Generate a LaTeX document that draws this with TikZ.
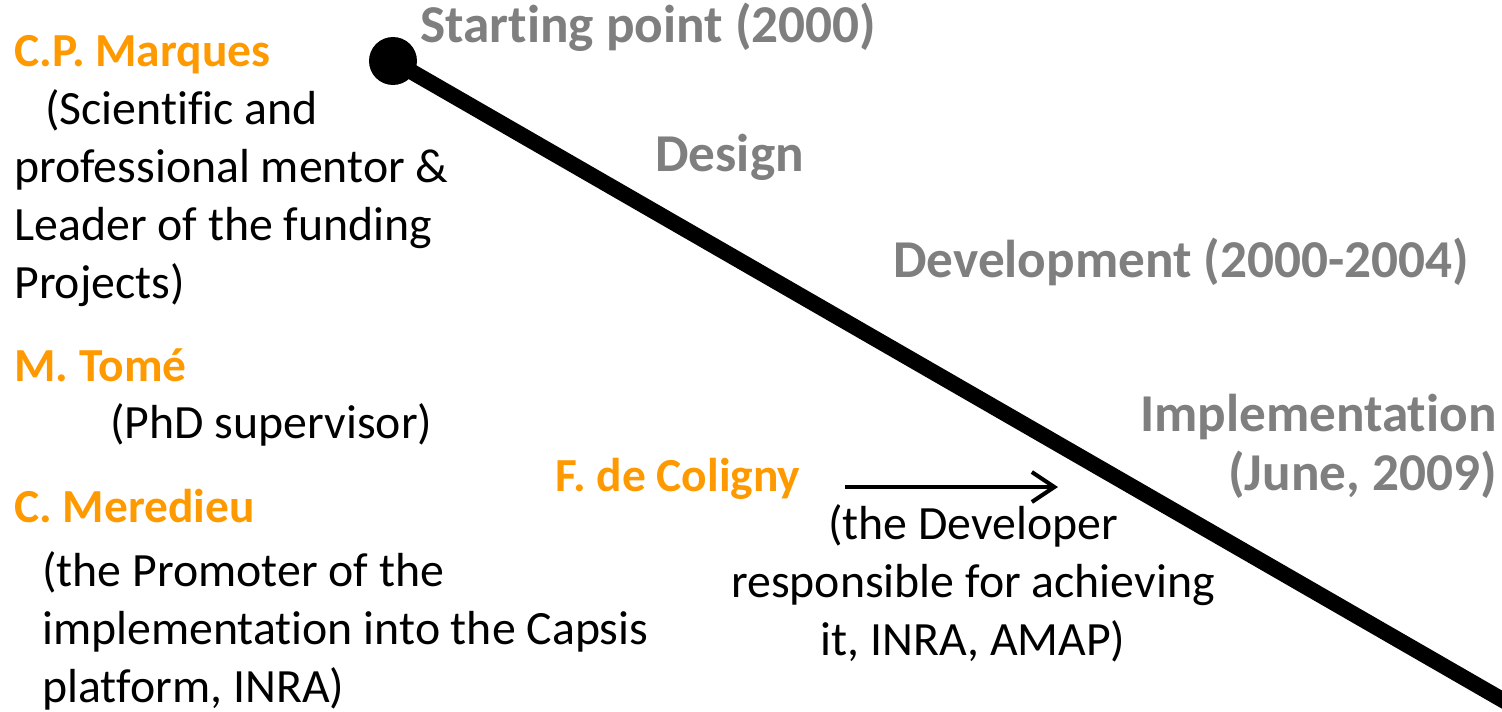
\documentclass[tikz,border=0pt]{standalone}
\usepackage{fontspec}
\setmainfont{Carlito}[Ligatures=NoCommon]
\usetikzlibrary{arrows.meta}
\definecolor{nameOrange}{RGB}{255, 153, 0}
\definecolor{phaseGray}{RGB}{127, 127, 127}

\begin{document}
\begin{tikzpicture}[x=0.02cm, y=-0.02cm]
  \tikzset{
    txt/.style = {inner sep=0pt, anchor=base west, align=left},
    person/.style = {txt, text=nameOrange, font=\fontsize{27}{33}\selectfont\bfseries},
    phase/.style = {txt, text=phaseGray, font=\fontsize{30.3}{33.5}\selectfont\bfseries},
    note/.style = {txt, text=black, font=\fontsize{27.2}{33}\selectfont}
  }
  \useasboundingbox (0,0) rectangle (1502,711);
  \clip (0,0) rectangle (1502,711);

  % time line
  \node[circle, fill=black, inner sep=0pt, minimum size=0.96cm] (start) at (393,61) {};
  \coordinate (end) at (1560,733);
  \draw[line width=9pt] (start.center) -- (end);

  % phases (multi-line nodes sit on their last baseline)
  \node[phase] (starting) at (420,42) {Starting point (2000)};
  \node[phase] (design) at (655,171) {Design};
  \node[phase] (devel) at (893,277) {Development (2000-2004)};
  \node[phase, align=right, anchor=base east] (impl) at (1497,490) {Implementation\\(June, 2009)};

  % people
  \node[person] (marques) at (14,66) {C.P. Marques};
  \node[note] (marquesrole) at (14,298) {\hspace*{0.62cm}(Scientific and\\professional mentor \&\\Leader of the funding\\Projects)};
  \node[person] (tome) at (14,381) {M. Tomé};
  \node[note] (tomerole) at (110,438) {(PhD supervisor)};
  \node[person] (meredieu) at (14,522) {C. Meredieu};
  \node[note] (meredieurole) at (42,702) {(the Promoter of the\\implementation into the Capsis\\platform, INRA)};
  \node[person] (coligny) at (555,491) {F. de Coligny};
  \node[note, align=center, anchor=base] (colignyrole) at (973,655) {(the Developer\\responsible for achieving\\it, INRA, AMAP)};

  \coordinate (from) at (845,487);
  \coordinate (to) at (1058,487);
  \draw[line width=2.3pt, -{Straight Barb[length=0.45cm, width=0.6cm]}] (from) -- (to);
\end{tikzpicture}
\end{document}
